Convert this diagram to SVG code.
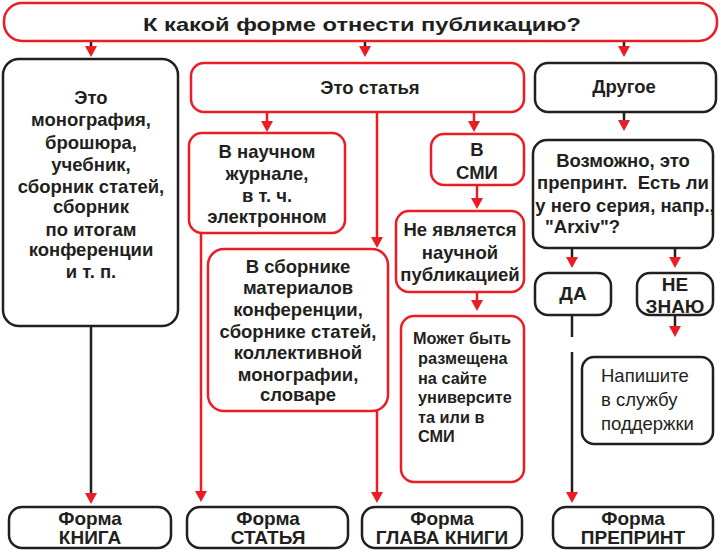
<svg xmlns="http://www.w3.org/2000/svg" width="723" height="552" viewBox="0 0 723 552">
<defs>
<style>
.r{fill:#fff;stroke:#ec1c24;stroke-width:2.5}
.k{fill:#fff;stroke:#231f20;stroke-width:2.5}
.t{font-family:"Liberation Sans",Arial,sans-serif;font-weight:bold;font-size:18.5px;fill:#231f20;text-anchor:middle}
.b{font-size:19px}
.s{font-family:"Liberation Sans",Arial,sans-serif;font-weight:bold;font-size:16.3px;fill:#231f20}
.n{font-family:"Liberation Sans",Arial,sans-serif;font-size:18.5px;fill:#231f20}
.lr{stroke:#ec1c24;stroke-width:2.5;fill:none}
.lk{stroke:#231f20;stroke-width:2.5;fill:none}
.h{fill:#ec1c24}
</style>
</defs>
<rect width="723" height="552" fill="#fff"/>

<g id="connectors">
<line class="lk" x1="91" y1="41" x2="91" y2="48"/><path class="h" d="M85,46 L97,46 L91,57 Z"/>
<line class="lk" x1="365" y1="41" x2="365" y2="48"/><path class="h" d="M359,46 L371,46 L365,57 Z"/>
<line class="lk" x1="624" y1="41" x2="624" y2="48"/><path class="h" d="M618,46 L630,46 L624,57 Z"/>
<line class="lr" x1="267" y1="112" x2="267" y2="123"/><path class="h" d="M261,121 L273,121 L267,132 Z"/>
<line class="lr" x1="377" y1="112" x2="377" y2="239"/><path class="h" d="M371,237 L383,237 L377,248 Z"/>
<line class="lr" x1="474" y1="112" x2="474" y2="123"/><path class="h" d="M468,121 L480,121 L474,132 Z"/>
<line class="lk" x1="624" y1="112" x2="624" y2="121"/><path class="h" d="M618,120 L630,120 L624,131 Z"/>
<line class="lr" x1="477" y1="185" x2="477" y2="200"/><path class="h" d="M471,198 L483,198 L477,209 Z"/>
<line class="lr" x1="477" y1="292" x2="477" y2="302"/><path class="h" d="M471,300 L483,300 L477,311 Z"/>
<line class="lk" x1="572" y1="248" x2="572" y2="258"/><path class="h" d="M566,257 L578,257 L572,268 Z"/>
<line class="lk" x1="675" y1="248" x2="675" y2="258"/><path class="h" d="M669,257 L681,257 L675,268 Z"/>
<line class="lk" x1="675" y1="315" x2="675" y2="327"/><path class="h" d="M669,326 L681,326 L675,337 Z"/>
<line class="lk" x1="572" y1="315" x2="572" y2="337"/>
<line class="lk" x1="572" y1="352" x2="572" y2="494"/><path class="h" d="M566,492 L578,492 L572,503 Z"/>
<line class="lk" x1="91" y1="326" x2="91" y2="494"/><path class="h" d="M85,493 L97,493 L91,504 Z"/>
<line class="lr" x1="201" y1="233" x2="201" y2="493"/><path class="h" d="M195,491 L207,491 L201,502 Z"/>
<line class="lr" x1="377" y1="411" x2="377" y2="494"/><path class="h" d="M371,492 L383,492 L377,503 Z"/>
</g>

<g id="title">
<rect class="r" x="4" y="3" width="713" height="38" rx="18"/>
<text class="t" x="362" y="31" font-size="24" textLength="438" lengthAdjust="spacingAndGlyphs">К какой форме отнести публикацию?</text>
</g>

<g id="book">
<rect class="k" x="3" y="59" width="175" height="267" rx="16"/>
<text class="t"><tspan x="91" y="104">Это</tspan><tspan x="91" y="126">монография,</tspan><tspan x="91" y="149">брошюра,</tspan><tspan x="91" y="171">учебник,</tspan><tspan x="91" y="193">сборник статей,</tspan><tspan x="91" y="213">сборник</tspan><tspan x="91" y="236">по итогам</tspan><tspan x="91" y="256">конференции</tspan><tspan x="91" y="278">и т. п.</tspan></text>
</g>

<g id="article">
<rect class="r" x="191" y="63" width="333" height="49" rx="13"/>
<text class="t" x="370" y="94">Это статья</text>
</g>

<g id="other">
<rect class="k" x="535" y="63" width="181" height="49" rx="13"/>
<text class="t" x="624" y="93">Другое</text>
</g>

<g id="journal">
<rect class="r" x="189" y="133" width="156" height="100" rx="13"/>
<text class="t"><tspan x="267" y="158">В научном</tspan><tspan x="267" y="180">журнале,</tspan><tspan x="267" y="202">в т. ч.</tspan><tspan x="267" y="223">электронном</tspan></text>
</g>

<g id="collection">
<rect class="r" x="208" y="249" width="180" height="162" rx="16"/>
<text class="t"><tspan x="298" y="273">В сборнике</tspan><tspan x="298" y="294">материалов</tspan><tspan x="298" y="316">конференции,</tspan><tspan x="298" y="338">сборнике статей,</tspan><tspan x="298" y="359">коллективной</tspan><tspan x="298" y="381">монографии,</tspan><tspan x="298" y="401">словаре</tspan></text>
</g>

<g id="media">
<rect class="r" x="431" y="134" width="93" height="51" rx="13"/>
<text class="t"><tspan x="477" y="156">В</tspan><tspan x="477" y="179">СМИ</tspan></text>
</g>

<g id="notscience">
<rect class="r" x="396" y="211" width="128" height="81" rx="13"/>
<text class="t" font-size="17.5"><tspan x="460" y="236">Не является</tspan><tspan x="460" y="259">научной</tspan><tspan x="460" y="281">публикацией</tspan></text>
</g>

<g id="site">
<rect class="r" x="401" y="316" width="123" height="166" rx="13"/>
<text class="s"><tspan x="413" y="344">Может быть</tspan><tspan x="418" y="364">размещена</tspan><tspan x="418" y="384">на сайте</tspan><tspan x="418" y="403">университе</tspan><tspan x="418" y="423">та или в</tspan><tspan x="418" y="442">СМИ</tspan></text>
</g>

<g id="preprintq">
<rect class="k" x="533" y="140" width="180" height="108" rx="14"/>
<text class="t" font-size="16.5" xml:space="preserve"><tspan x="623" y="167">Возможно, это</tspan><tspan x="623" y="189">препринт.  Есть ли</tspan><tspan x="625" y="212">у него серия, напр.,</tspan><tspan x="545" y="233" text-anchor="start">"Arxiv"?</tspan></text>
</g>

<g id="yes">
<rect class="k" x="535" y="273" width="76" height="42" rx="13"/>
<text class="t b" x="573" y="300">ДА</text>
</g>

<g id="dontknow">
<rect class="k" x="637" y="273" width="76" height="42" rx="13"/>
<text class="t b"><tspan x="675" y="291">НЕ</tspan><tspan x="675" y="313">ЗНАЮ</tspan></text>
</g>

<g id="support">
<rect class="k" x="582" y="357" width="131" height="87" rx="12"/>
<text class="n"><tspan x="601" y="382">Напишите</tspan><tspan x="601" y="406">в службу</tspan><tspan x="601" y="430">поддержки</tspan></text>
</g>

<g id="formbook">
<rect class="k" x="9" y="507" width="162" height="41" rx="13"/>
<text class="t b"><tspan x="90" y="525">Форма</tspan><tspan x="90" y="544">КНИГА</tspan></text>
</g>

<g id="formarticle">
<rect class="k" x="187" y="507" width="161" height="41" rx="13"/>
<text class="t b"><tspan x="268" y="525">Форма</tspan><tspan x="268" y="544">СТАТЬЯ</tspan></text>
</g>

<g id="formchapter">
<rect class="k" x="362" y="507" width="160" height="41" rx="13"/>
<text class="t b"><tspan x="442" y="525">Форма</tspan><tspan x="442" y="544">ГЛАВА КНИГИ</tspan></text>
</g>

<g id="formpreprint">
<rect class="k" x="553" y="507" width="160" height="41" rx="13"/>
<text class="t b"><tspan x="633" y="525">Форма</tspan><tspan x="633" y="544">ПРЕПРИНТ</tspan></text>
</g>
</svg>
